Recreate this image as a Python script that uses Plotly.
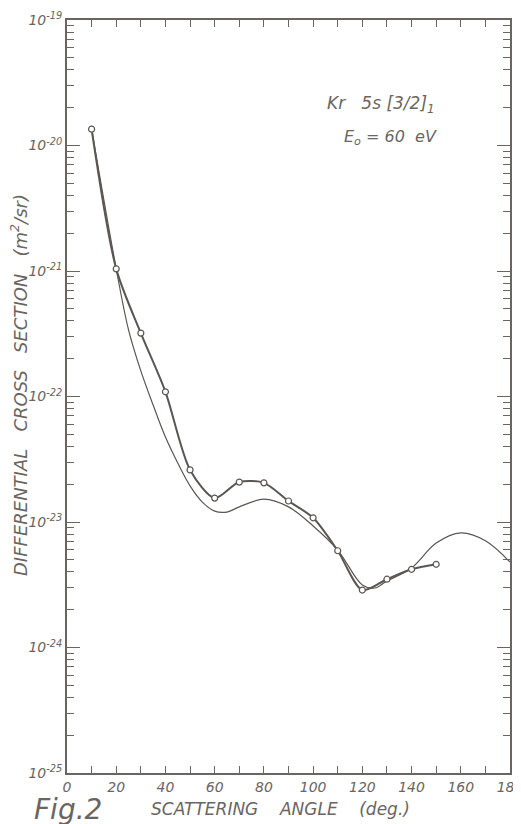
import plotly.graph_objects as go

# Experimental points (open circles, joined by a thicker smooth line)
exp_angle = [10, 20, 30, 40, 50, 60, 70, 80, 90, 100, 110, 120, 130, 140, 150]
exp_dcs = [1.35e-20, 1.04e-21, 3.2e-22, 1.09e-22, 2.6e-23, 1.55e-23, 2.08e-23,
           2.05e-23, 1.47e-23, 1.08e-23, 5.9e-24, 2.87e-24, 3.5e-24, 4.2e-24, 4.6e-24]

# Theoretical curve (thin line)
th_angle = [10, 20, 25, 30, 35, 40, 45, 50, 55, 60, 65, 70, 80, 90, 100, 110,
            120, 125, 130, 140, 150, 160, 170, 180]
th_dcs = [1.35e-20, 1.04e-21, 3.4e-22, 1.6e-22, 8.55e-23, 4.75e-23, 2.95e-23,
          1.94e-23, 1.44e-23, 1.22e-23, 1.2e-23, 1.32e-23, 1.52e-23, 1.32e-23,
          9.3e-24, 5.98e-24, 3.15e-24, 2.98e-24, 3.39e-24, 4.3e-24, 6.8e-24,
          8.2e-24, 7.1e-24, 4.8e-24]

x_ticks = [0, 20, 40, 60, 80, 100, 120, 140, 160, 180]
x_labels = ["0", "20", "40", "60", "80", "100", "120", "140", "160", "180"]
y_exps = [-25, -24, -23, -22, -21, -20, -19]
y_ticks = [10.0 ** e for e in y_exps]
y_labels = ["10<sup>%d</sup>" % e for e in y_exps]
y_minor = [k * 10.0 ** e for e in range(-25, -19) for k in range(2, 10)]

INK = "#5b5652"
AX = "#6a6561"
FONT = "DejaVu Sans"

# page has an 8px body margin; the figure is sized/margined so that the
# plot area lands at page x 67..510, y 20..773
OFF = 8
W, H = 521 - OFF, 824 - OFF
PL, PR, PT, PB = 67, 510, 20, 773

fig = go.Figure()
fig.add_trace(go.Scatter(
    x=th_angle, y=th_dcs, mode="lines",
    line=dict(color=INK, width=1.2, shape="spline", smoothing=1.0),
    hoverinfo="skip", showlegend=False))
fig.add_trace(go.Scatter(
    x=exp_angle, y=exp_dcs, mode="lines+markers",
    line=dict(color=INK, width=2.0, shape="spline", smoothing=0.8),
    marker=dict(symbol="circle", size=6, color="white",
                line=dict(color=INK, width=1.2)),
    showlegend=False))

fig.update_layout(
    width=W, height=H,
    margin=dict(l=PL - OFF, r=W - (PR - OFF), t=PT - OFF, b=H - (PB - OFF),
                autoexpand=False),
    paper_bgcolor="white", plot_bgcolor="white",
    font=dict(family=FONT, color=AX),
    xaxis=dict(
        range=[0, 180], tickmode="array", tickvals=x_ticks,
        ticktext=["<i>%s</i>" % t for t in x_labels],
        ticks="inside", ticklen=7, tickwidth=1.3, tickcolor=AX,
        minor=dict(tickmode="array", tickvals=list(range(10, 180, 20)),
                   ticks="inside", ticklen=7, tickwidth=1.3, tickcolor=AX,
                   showgrid=False),
        showline=True, linecolor=AX, linewidth=1.8, mirror="allticks",
        showgrid=False, zeroline=False, automargin=False,
        ticklabeloverflow="allow",
        tickfont=dict(size=14, color=AX, family=FONT),
    ),
    yaxis=dict(
        type="log", range=[-25, -19], tickmode="array", tickvals=y_ticks,
        ticktext=["<i>%s</i>" % t for t in y_labels],
        ticks="inside", ticklen=13, tickwidth=1.3, tickcolor=AX,
        minor=dict(tickmode="array", tickvals=y_minor,
                   ticks="inside", ticklen=7, tickwidth=1.2, tickcolor=AX,
                   showgrid=False),
        showline=True, linecolor=AX, linewidth=1.8, mirror="allticks",
        showgrid=False, zeroline=False, automargin=False,
        ticklabeloverflow="allow",
        tickfont=dict(size=14, color=AX, family=FONT),
    ),
)

anns = [
    dict(text="<i>DIFFERENTIAL   CROSS   SECTION   (m<sup>2</sup>/sr)</i>",
         x=19, y=385, textangle=-90, size=18),
    dict(text="<i>SCATTERING    ANGLE    (deg.)</i>", x=280, y=809, size=17),
    dict(text="<i>Fig.2</i>", x=68, y=809, size=28),
    dict(text="<i>Kr   5s [3/2]<sub>1</sub></i>", x=381, y=104, size=17),
    dict(text="<i>E<sub>o</sub> = 60  eV</i>", x=390, y=137, size=16),
]
for a in anns:
    fig.add_annotation(
        text=a["text"], xref="paper", yref="paper",
        x=(a["x"] - PL) / (PR - PL),
        y=1 - (a["y"] - PT) / (PB - PT),
        xanchor="center", yanchor="middle", showarrow=False,
        textangle=a.get("textangle", 0),
        font=dict(size=a["size"], color=AX, family=FONT))

fig.write_html("out.html")
